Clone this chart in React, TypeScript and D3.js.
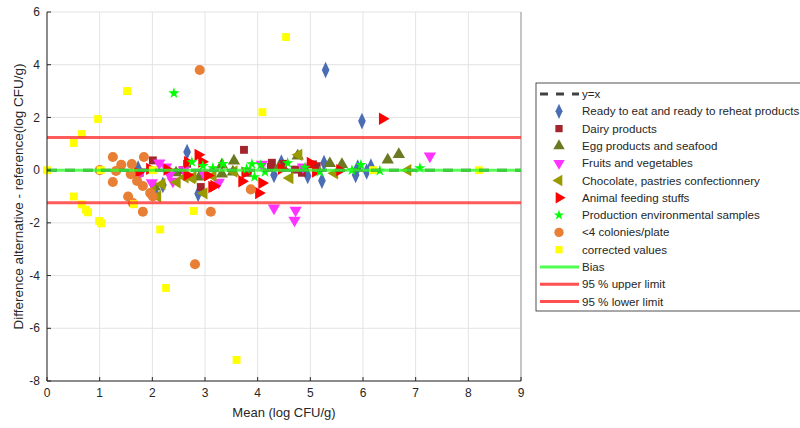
import React from 'react';
import * as d3 from 'd3';

const width = 800;
const height = 428;
const margin = { left: 47, right: 279, top: 12, bottom: 47 };
const plotW = width - margin.left - margin.right;
const plotH = height - margin.top - margin.bottom;
const font = 'Liberation Sans, Arial, sans-serif';
const textColor = '#262626';

// [mean, difference] pairs per category
const readyToEat = [
  [5.29, 3.8], [5.98, 1.86], [2.66, 0.69], [2.87, -0.9], [2.2, -0.56], [1.73, 0.06], [2.05, -0.85],
  [4.31, -0.18], [4.45, 0.29], [4.95, -0.22], [5.22, -0.4], [5.26, 0.27], [5.86, -0.18], [5.9, 0.1],
  [6.07, -0.05], [6.15, 0.14],
];
const dairy = [
  [1.76, -0.1], [2.01, 0.37], [2.66, 0.24], [2.92, -0.64], [3.74, 0.77], [3.81, -0.1], [4.27, 0.28],
  [4.25, 0.12], [4.48, 0.24], [4.71, 0.02], [4.84, -0.1], [5.05, 0.22], [5.12, 0.15], [2.58, 0.0],
];
const eggSeafood = [
  [2.05, -0.64], [2.92, -0.18], [2.9, -0.26], [3.32, 0.2], [3.32, -0.14], [3.55, 0.35], [3.53, -0.07],
  [4.76, 0.54], [5.37, 0.25], [5.6, 0.22], [6.47, 0.39], [6.68, 0.6], [4.4, 0.1], [2.45, -0.1],
];
const fruitsVeg = [
  [1.78, -0.07], [1.99, -0.48], [2.13, 0.27], [2.26, 0.12], [2.33, -0.18], [2.39, -0.42], [2.97, -0.1],
  [3.26, -0.46], [4.08, 0.22], [4.31, -1.44], [4.72, -1.52], [4.7, -1.9], [4.86, 0.12], [7.27, 0.53],
  [2.6, 0.0],
];
const chocolate = [
  [2.1, -1.0], [2.18, -0.53], [2.47, -0.46], [2.62, -0.27], [2.75, -0.3], [2.98, -0.88], [3.15, -0.22],
  [2.77, -0.26], [3.55, -0.05], [4.61, -0.3], [4.78, 0.58], [5.46, -0.12], [6.85, 0.0], [2.0, -0.8],
];
const animalFeed = [
  [1.72, -0.1], [2.28, 0.02], [2.66, -0.18], [2.67, 0.3], [2.87, 0.58], [2.94, 0.32], [3.13, -0.64],
  [3.17, -0.6], [3.7, -0.42], [3.76, -0.1], [4.02, -0.87], [4.08, -0.49], [4.45, 0.05], [5.0, 0.27],
  [5.1, -0.05], [5.56, 0.0], [6.37, 1.95], [3.05, -0.2], [1.95, 0.05],
];
const environmental = [
  [2.41, 2.92], [2.75, 0.31], [2.96, 0.16], [3.15, 0.08], [3.34, 0.24], [3.79, 0.04], [3.89, 0.23],
  [3.94, -0.26], [4.06, 0.2], [4.14, -0.07], [4.57, 0.27], [5.18, -0.07], [5.79, 0.0], [5.96, 0.2],
  [6.32, -0.02], [7.08, 0.08], [4.9, 0.1],
];
const fewColonies = [
  [2.9, 3.8], [1.25, 0.5], [1.41, 0.2], [1.61, 0.23], [1.84, 0.5], [1.31, -0.03], [1.0, 0.0],
  [1.59, -0.15], [1.25, -0.45], [1.71, -0.41], [1.82, -0.6], [1.54, -1.0], [1.63, -1.25], [1.96, -0.87],
  [2.01, -1.0], [1.82, -1.58], [3.11, -1.58], [2.81, -3.57], [3.87, -0.73],
];
const corrected = [
  [0, 0], [0.51, 1.03], [0.66, 1.37], [0.97, 1.94], [1.52, 3.0], [1.02, 0], [2.01, 0], [0.51, -1.0],
  [0.66, -1.3], [0.74, -1.5], [0.78, -1.6], [0.99, -1.93], [1.03, -2.02], [1.65, -1.29], [2.15, -2.25],
  [2.26, -4.47], [2.79, -1.55], [4.09, 2.2], [4.54, 5.05], [3.6, -7.2], [6.19, 0], [8.2, 0],
];

const bias = 0.0;
const upperLimit = 1.24;
const lowerLimit = -1.24;

const xTicks = [0, 1, 2, 3, 4, 5, 6, 7, 8, 9];
const yTicks = [-8, -6, -4, -2, 0, 2, 4, 6];

type Series = {
  name: string;
  data: number[][];
  color: string;
  shape: d3.SymbolType;
  size: number;
  rotate: number;
  sx: number;
};

const series: Series[] = [
  { name: 'Ready to eat and ready to reheat products', data: readyToEat, color: '#4a6db3', shape: d3.symbolDiamond, size: 80, rotate: 0, sx: 0.8 },
  { name: 'Dairy products', data: dairy, color: '#a3242a', shape: d3.symbolSquare, size: 62, rotate: 0, sx: 1 },
  { name: 'Egg products and seafood', data: eggSeafood, color: '#6b7a22', shape: d3.symbolTriangle, size: 66, rotate: 0, sx: 1 },
  { name: 'Fruits and vegetables', data: fruitsVeg, color: '#ff33ff', shape: d3.symbolTriangle, size: 66, rotate: 180, sx: 1 },
  { name: 'Chocolate, pastries confectionnery', data: chocolate, color: '#999900', shape: d3.symbolTriangle, size: 66, rotate: -90, sx: 1 },
  { name: 'Animal feeding stuffs', data: animalFeed, color: '#ff0000', shape: d3.symbolTriangle, size: 66, rotate: 90, sx: 1 },
  { name: 'Production environmental samples', data: environmental, color: '#00ff00', shape: d3.symbolStar, size: 40, rotate: 0, sx: 1 },
  { name: '<4 colonies/plate', data: fewColonies, color: '#e87f35', shape: d3.symbolCircle, size: 80, rotate: 0, sx: 1 },
  { name: 'corrected values', data: corrected, color: '#ffff00', shape: d3.symbolSquare, size: 62, rotate: 0, sx: 1 },
];

const x = d3.scaleLinear().domain([0, 9]).range([margin.left, margin.left + plotW]);
const y = d3.scaleLinear().domain([-8, 6]).range([margin.top + plotH, margin.top]);

const lineLegend = [
  { name: 'Bias', color: '#33ff33', opacity: 0.85 },
  { name: '95 % upper limit', color: '#ff3333', opacity: 0.85 },
  { name: '95 % lower limit', color: '#ff3333', opacity: 0.85 },
];

const App = () => {
  const x0 = x(0);
  const x9 = x(9);
  const legX = 536;
  const legY = 83;
  const rowH = 17.3;
  const firstRow = 94;
  const legFont = 11.6;

  return (
    <svg width={width} height={height} style={{ position: 'absolute', left: 0, top: 0 }}>
      <rect width={width} height={height} fill="#ffffff" />
      {/* grid */}
      {xTicks.map((t) => (
        <line key={'gx' + t} x1={x(t)} x2={x(t)} y1={y(-8)} y2={y(6)} stroke="#e3e3e3" strokeWidth={1} />
      ))}
      {yTicks.map((t) => (
        <line key={'gy' + t} x1={x0} x2={x9} y1={y(t)} y2={y(t)} stroke="#e3e3e3" strokeWidth={1} />
      ))}
      <line x1={x9} x2={x9} y1={y(-8)} y2={y(6)} stroke="#9a9a9a" strokeWidth={1} />

      {/* markers */}
      {series.map((s) => {
        const path = d3.symbol().type(s.shape).size(s.size)() as string;
        return (
          <g key={s.name}>
            {s.data.map((d, i) => (
              <path
                key={i}
                d={path}
                fill={s.color}
                transform={`translate(${x(d[0])},${y(d[1])}) rotate(${s.rotate}) scale(${s.sx},1)`}
              />
            ))}
          </g>
        );
      })}

      {/* reference lines */}
      <line x1={x0} x2={x9} y1={y(0)} y2={y(0)} stroke="#404040" strokeWidth={3} strokeDasharray="10 8" />
      <line x1={x0} x2={x9} y1={y(bias)} y2={y(bias)} stroke="#33ff33" strokeWidth={3} opacity={0.8} />
      <line x1={x0} x2={x9} y1={y(upperLimit)} y2={y(upperLimit)} stroke="#ff3333" strokeWidth={3} opacity={0.8} />
      <line x1={x0} x2={x9} y1={y(lowerLimit)} y2={y(lowerLimit)} stroke="#ff3333" strokeWidth={3} opacity={0.8} />

      {/* axes */}
      <line x1={x0} x2={x0} y1={y(-8)} y2={y(6)} stroke={textColor} strokeWidth={1} />
      <line x1={x0} x2={x9} y1={y(-8)} y2={y(-8)} stroke={textColor} strokeWidth={1} />
      {yTicks.map((t) => (
        <g key={'ty' + t}>
          <line x1={x0} x2={x0 + 4} y1={y(t)} y2={y(t)} stroke={textColor} />
          <text x={x0 - 7} y={y(t)} dy="0.35em" textAnchor="end" fontSize={12} fontFamily={font} fill={textColor}>
            {t}
          </text>
        </g>
      ))}
      {xTicks.map((t) => (
        <g key={'tx' + t}>
          <line x1={x(t)} x2={x(t)} y1={y(-8)} y2={y(-8) - 4} stroke={textColor} />
          <text x={x(t)} y={y(-8) + 16} textAnchor="middle" fontSize={12} fontFamily={font} fill={textColor}>
            {t}
          </text>
        </g>
      ))}
      <text x={(x0 + x9) / 2} y={417} textAnchor="middle" fontSize={13} fontFamily={font} fill={textColor}>
        Mean (log CFU/g)
      </text>
      <text
        transform={`translate(23,${(y(-8) + y(6)) / 2}) rotate(-90)`}
        textAnchor="middle"
        fontSize={13.5}
        fontFamily={font}
        fill={textColor}
      >
        Difference alternative - reference(log CFU/g)
      </text>

      {/* legend */}
      <rect x={legX} y={legY} width={300} height={228} fill="#ffffff" stroke="#262626" strokeWidth={0.8} />
      <line x1={540} x2={579} y1={firstRow} y2={firstRow} stroke="#404040" strokeWidth={3} strokeDasharray="8 8" />
      <text x={582} y={firstRow} dy="0.35em" fontSize={legFont} fontFamily={font} fill={textColor}>
        y=x
      </text>
      {series.map((s, i) => {
        const cy = firstRow + rowH * (i + 1);
        const path = d3.symbol().type(s.shape).size(s.size * 0.85)() as string;
        return (
          <g key={'leg' + s.name}>
            <path d={path} fill={s.color} transform={`translate(559,${cy}) rotate(${s.rotate}) scale(${s.sx},1)`} />
            <text x={582} y={cy} dy="0.35em" fontSize={legFont} fontFamily={font} fill={textColor}>
              {s.name}
            </text>
          </g>
        );
      })}
      {lineLegend.map((l, i) => {
        const cy = firstRow + rowH * (series.length + 1 + i);
        return (
          <g key={'ll' + l.name}>
            <line x1={540} x2={579} y1={cy} y2={cy} stroke={l.color} strokeWidth={3} opacity={l.opacity} />
            <text x={582} y={cy} dy="0.35em" fontSize={legFont} fontFamily={font} fill={textColor}>
              {l.name}
            </text>
          </g>
        );
      })}
    </svg>
  );
};

export default App;
